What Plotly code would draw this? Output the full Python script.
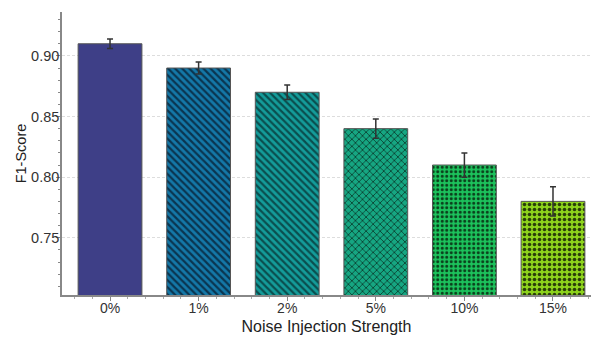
import plotly.graph_objects as go

categories = ["0%", "1%", "2%", "5%", "10%", "15%"]
f1_scores = [0.910, 0.890, 0.870, 0.840, 0.810, 0.780]
f1_errors = [0.004, 0.005, 0.006, 0.008, 0.010, 0.012]
bar_colors = ["#3e3f87", "#1478a8", "#149c9a", "#16a682", "#1cc25c", "#8dd31c"]
hatch_colors = ["#3e3f87", "#0a3550", "#0a4e4e", "#0a3f30", "#0b3f1c", "#2a3f08"]
patterns = ["", "\\", "\\", "x", ".", "."]
pattern_sizes = [6, 5, 5, 5, 4.5, 5]
pattern_solidity = [0.3, 0.45, 0.45, 0.3, 0.35, 0.4]

x_pos = list(range(len(categories)))

fig = go.Figure()
for i in range(len(categories)):
    fig.add_trace(go.Bar(
        x=[x_pos[i]],
        y=[f1_scores[i]],
        width=0.72,
        marker=dict(
            color=bar_colors[i],
            line=dict(color="#555555", width=1),
            pattern=dict(
                shape=patterns[i],
                fillmode="overlay",
                bgcolor=bar_colors[i],
                fgcolor=hatch_colors[i],
                fgopacity=1,
                size=pattern_sizes[i],
                solidity=pattern_solidity[i],
            ),
        ),
        error_y=dict(type="data", array=[f1_errors[i]], visible=True,
                     color="#333333", thickness=1.5, width=3),
        showlegend=False,
    ))

fig.update_layout(
    width=591, height=338,
    margin=dict(l=62, r=0, t=12, b=43),
    paper_bgcolor="white", plot_bgcolor="white",
    font=dict(family="Liberation Sans", color="#333333", size=14),
    barmode="overlay",
)
fig.update_xaxes(
    range=[-0.542, 5.429],
    tickvals=x_pos, ticktext=categories,
    showline=True, linecolor="#888888", linewidth=1.5,
    ticks="outside", ticklen=4, tickcolor="#888888",
    minor=dict(dtick=0.2, tick0=0, ticks="outside", ticklen=2, tickcolor="#aaaaaa", showgrid=False),
    showgrid=False, zeroline=False,
    tickfont=dict(size=14),
    ticklabelstandoff=-5,
    title=dict(text="Noise Injection Strength", font=dict(size=16, color="#222222"), standoff=6),
)
fig.update_yaxes(
    range=[0.7028, 0.9362],
    tickvals=[0.75, 0.80, 0.85, 0.90], ticktext=["0.75", "0.80", "0.85", "0.90"],
    showline=True, linecolor="#888888", linewidth=1.5,
    ticks="outside", ticklen=4, tickcolor="#888888",
    minor=dict(dtick=0.01, tick0=0.70, ticks="outside", ticklen=2, tickcolor="#888888", showgrid=False),
    showgrid=True, gridcolor="#dddddd", griddash="3px,2px", gridwidth=1,
    zeroline=False,
    tickfont=dict(size=14.5),
    ticklabelstandoff=-6,
    title=dict(text="F1-Score", font=dict(size=14.5, color="#222222"), standoff=1),
)

fig.write_html("out.html")
